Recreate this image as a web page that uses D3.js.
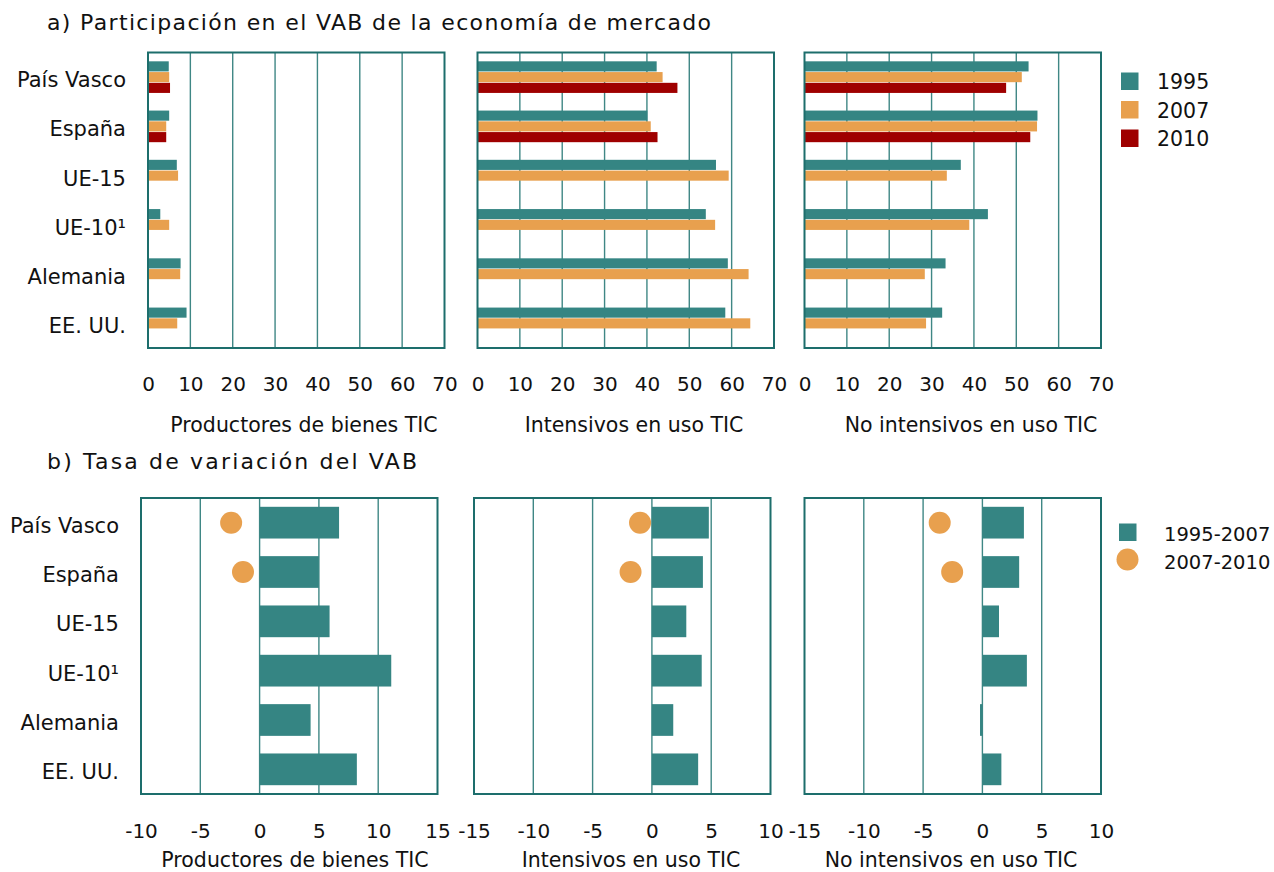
<!DOCTYPE html>
<html>
<head>
<meta charset="utf-8">
<script src="https://cdn.jsdelivr.net/npm/d3@7"></script>
<style>
  html, body { margin: 0; padding: 0; background: #fff; }
  svg { display: block; font-family: "DejaVu Sans", sans-serif; }
</style>
</head>
<body>
<svg id="chart" width="1274" height="872"></svg>
<script>
// ---------------- DATA ----------------
const categories = ["País Vasco", "España", "UE-15", "UE-10¹", "Alemania", "EE. UU."];

const shareYears = ["1995", "2007", "2010"];
const shareTicks = [0, 10, 20, 30, 40, 50, 60, 70];
const panelTitles = ["Productores de bienes TIC", "Intensivos en uso TIC", "No intensivos en uso TIC"];

// a) Participación en el VAB (%)
const shareProd1995 = [4.9, 5.0, 6.8, 2.9, 7.7, 9.1];
const shareProd2007 = [5.0, 4.3, 7.1, 5.0, 7.6, 6.9];
const shareProd2010 = [5.2, 4.3, null, null, null, null];

const shareInt1995 = [42.3, 40.1, 56.3, 53.9, 59.1, 58.5];
const shareInt2007 = [43.7, 40.9, 59.3, 56.1, 64.0, 64.4];
const shareInt2010 = [47.2, 42.5, null, null, null, null];

const shareNon1995 = [52.9, 55.0, 36.9, 43.3, 33.3, 32.5];
const shareNon2007 = [51.3, 54.9, 33.6, 38.9, 28.4, 28.7];
const shareNon2010 = [47.6, 53.3, null, null, null, null];

// b) Tasa de variación del VAB (%)
const growthPeriods = ["1995-2007", "2007-2010"];
const growthTicksProd = [-10, -5, 0, 5, 10, 15];
const growthTicksOther = [-15, -10, -5, 0, 5, 10];

const growthProd9507 = [6.7, 5.0, 5.9, 11.1, 4.3, 8.2];
const growthProd0710 = [-2.4, -1.4, null, null, null, null];

const growthInt9507 = [4.8, 4.3, 2.9, 4.2, 1.8, 3.9];
const growthInt0710 = [-1.0, -1.8, null, null, null, null];

const growthNon9507 = [3.5, 3.1, 1.4, 3.75, -0.2, 1.6];
const growthNon0710 = [-3.6, -2.55, null, null, null, null];

// ---------------- STYLE ----------------
const C_TEAL = "#358583";
const C_ORANGE = "#E8A04E";
const C_RED = "#9F0000";
const C_FRAME = "#1d6e6c";
const C_GRID = "#3f8785";
const C_TEXT = "#111";
const yearColors = { "1995": C_TEAL, "2007": C_ORANGE, "2010": C_RED };
const fmt = d => String(d);   // plain hyphen-minus, as in the reference

const svg = d3.select("#chart");

// ---------------- TOP ROW ----------------
const topPanels = [
  { x: 148, series: [shareProd1995, shareProd2007, shareProd2010], title: panelTitles[0], tcx: 304 },
  { x: 477.5, series: [shareInt1995, shareInt2007, shareInt2010], title: panelTitles[1], tcx: 634 },
  { x: 804.5, series: [shareNon1995, shareNon2007, shareNon2010], title: panelTitles[2], tcx: 971 }
];
const PW = 296.5;
const topY0 = 52.5, topY1 = 348;

const yTop = d3.scaleBand().domain(categories).range([topY0, topY1]).padding(0);
const ySub = d3.scaleBand().domain(shareYears).range([0, yTop.bandwidth()])
  .paddingInner(0.06).paddingOuter(0.82);

topPanels.forEach((p, pi) => {
  const x = d3.scaleLinear().domain([0, 70]).range([p.x, p.x + PW]);
  const g = svg.append("g");

  g.selectAll("line.grid").data(shareTicks.slice(1, -1)).join("line")
    .attr("x1", d => x(d)).attr("x2", d => x(d))
    .attr("y1", topY0).attr("y2", topY1)
    .attr("stroke", C_GRID).attr("stroke-width", 1.4);

  shareYears.forEach((yr, si) => {
    const vals = p.series[si];
    g.selectAll(null).data(categories.map((c, i) => ({ c, v: vals[i] })).filter(d => d.v != null))
      .join("rect")
      .attr("x", x(0))
      .attr("y", d => yTop(d.c) + ySub(yr))
      .attr("width", d => x(d.v) - x(0))
      .attr("height", ySub.bandwidth())
      .attr("fill", yearColors[yr]);
  });

  g.append("rect").attr("x", x(0)).attr("y", topY0)
    .attr("width", PW).attr("height", topY1 - topY0)
    .attr("fill", "none").attr("stroke", C_FRAME).attr("stroke-width", 2);

  const ax = d3.axisBottom(x).tickValues(shareTicks).tickSize(0).tickPadding(0).tickFormat(fmt);
  const axg = svg.append("g").attr("transform", `translate(0, ${topY1 + 29})`).call(ax);
  axg.select(".domain").remove();
  axg.selectAll("text").attr("font-size", 20).attr("fill", C_TEXT)
    .attr("font-family", "DejaVu Sans, sans-serif");

  svg.append("text").attr("x", p.tcx).attr("y", 432)
    .attr("text-anchor", "middle").attr("font-size", 20.5).attr("fill", C_TEXT)
    .text(p.title);
});

svg.selectAll("text.catTop").data(categories).join("text")
  .attr("class", "catTop")
  .attr("x", 126)
  .attr("y", d => yTop(d) + yTop.bandwidth() / 2 + 10)
  .attr("text-anchor", "end").attr("font-size", 21).attr("fill", C_TEXT)
  .text(d => d);

const legTop = svg.append("g");
shareYears.forEach((yr, i) => {
  legTop.append("rect").attr("x", 1121).attr("y", 72.5 + i * 28.5)
    .attr("width", 17.5).attr("height", 17.5).attr("fill", yearColors[yr]);
  legTop.append("text").attr("x", 1157).attr("y", 89 + i * 28.5)
    .attr("font-size", 20.5).attr("fill", C_TEXT).text(yr);
});

// titles
svg.append("text").attr("x", 47).attr("y", 30).attr("font-size", 22).attr("fill", C_TEXT)
  .attr("textLength", 664).attr("lengthAdjust", "spacing")
  .text("a) Participación en el VAB de la economía de mercado");
svg.append("text").attr("x", 47).attr("y", 469).attr("font-size", 22).attr("fill", C_TEXT)
  .attr("textLength", 370).attr("lengthAdjust", "spacing")
  .text("b)  Tasa de variación del VAB");

// ---------------- BOTTOM ROW ----------------
const botPanels = [
  { x: 141, dom: [-10, 15], ticks: growthTicksProd, bars: growthProd9507, dots: growthProd0710, title: panelTitles[0], tcx: 295 },
  { x: 474, dom: [-15, 10], ticks: growthTicksOther, bars: growthInt9507, dots: growthInt0710, title: panelTitles[1], tcx: 631 },
  { x: 804.5, dom: [-15, 10], ticks: growthTicksOther, bars: growthNon9507, dots: growthNon0710, title: panelTitles[2], tcx: 951 }
];
const botY0 = 498, botY1 = 794;
const yBot = d3.scaleBand().domain(categories).range([botY0, botY1])
  .paddingInner(0.357).paddingOuter(0.1785);

botPanels.forEach(p => {
  const x = d3.scaleLinear().domain(p.dom).range([p.x, p.x + PW]);
  const g = svg.append("g");

  g.selectAll("line.grid").data(p.ticks.slice(1, -1)).join("line")
    .attr("x1", d => x(d)).attr("x2", d => x(d))
    .attr("y1", botY0).attr("y2", botY1)
    .attr("stroke", C_GRID).attr("stroke-width", 1.4);

  g.selectAll(null).data(categories.map((c, i) => ({ c, v: p.bars[i] }))).join("rect")
    .attr("x", d => x(Math.min(0, d.v)))
    .attr("y", d => yBot(d.c))
    .attr("width", d => Math.abs(x(d.v) - x(0)))
    .attr("height", yBot.bandwidth())
    .attr("fill", C_TEAL);

  g.selectAll(null).data(categories.map((c, i) => ({ c, v: p.dots[i] })).filter(d => d.v != null)).join("circle")
    .attr("cx", d => x(d.v))
    .attr("cy", d => yBot(d.c) + yBot.bandwidth() / 2)
    .attr("r", 11)
    .attr("fill", C_ORANGE);

  g.append("rect").attr("x", p.x).attr("y", botY0)
    .attr("width", PW).attr("height", botY1 - botY0)
    .attr("fill", "none").attr("stroke", C_FRAME).attr("stroke-width", 2);

  const ax = d3.axisBottom(x).tickValues(p.ticks).tickSize(0).tickPadding(0).tickFormat(fmt);
  const axg = svg.append("g").attr("transform", `translate(0, ${botY1 + 30})`).call(ax);
  axg.select(".domain").remove();
  axg.selectAll("text").attr("font-size", 20).attr("fill", C_TEXT)
    .attr("font-family", "DejaVu Sans, sans-serif");

  svg.append("text").attr("x", p.tcx).attr("y", 867)
    .attr("text-anchor", "middle").attr("font-size", 20.5).attr("fill", C_TEXT)
    .text(p.title);
});

svg.selectAll("text.catBot").data(categories).join("text")
  .attr("class", "catBot")
  .attr("x", 119)
  .attr("y", d => yBot(d) + yBot.bandwidth() / 2 + 10)
  .attr("text-anchor", "end").attr("font-size", 21).attr("fill", C_TEXT)
  .text(d => d);

const legBot = svg.append("g");
legBot.append("rect").attr("x", 1119).attr("y", 523.5).attr("width", 17.5).attr("height", 17.5).attr("fill", C_TEAL);
legBot.append("circle").attr("cx", 1127.5).attr("cy", 559.5).attr("r", 11).attr("fill", C_ORANGE);
growthPeriods.forEach((lbl, i) => {
  legBot.append("text").attr("x", 1164).attr("y", 541 + i * 28)
    .attr("font-size", 19.5).attr("fill", C_TEXT).text(lbl);
});
</script>
</body>
</html>
